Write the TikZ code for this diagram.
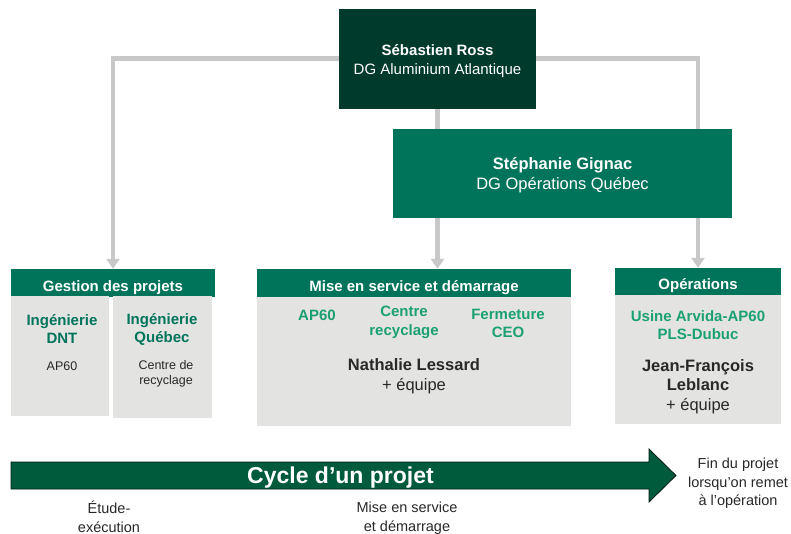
\documentclass[tikz,border=0pt]{standalone}
\usepackage{fontspec}
\setmainfont{Liberation Sans}
\usepackage{xcolor}
\usetikzlibrary{arrows.meta,backgrounds}

\definecolor{rossgreen}{RGB}{0,58,45}
\definecolor{teamgreen}{RGB}{0,116,90}
\definecolor{itemgreen}{RGB}{27,160,115}
\definecolor{bodygray}{RGB}{227,228,226}
\definecolor{linkgray}{RGB}{200,200,200}
\definecolor{cyclegreen}{RGB}{0,90,60}
\definecolor{textgray}{RGB}{40,40,40}

\tikzset{
  bossbox/.style={fill=#1,text=white,align=center,inner sep=0pt},
  headbox/.style={fill=teamgreen,text=white,inner sep=0pt,text height=16pt,text depth=0pt,font=\fontsize{15}{18}\selectfont\bfseries},
  bodybox/.style={fill=bodygray,inner sep=0pt},
  link/.style={draw=linkgray,line width=4.5pt},
  linkarrow/.style={link,-{Triangle[width=13pt,length=10pt]}},
  lbl/.style={align=center,inner sep=0pt}
}

\begin{document}
\begin{tikzpicture}[x=1pt,y=-1pt]
        \useasboundingbox (0,0) rectangle (791,533);
        \node[bossbox=rossgreen,minimum width=197pt,minimum height=100pt,font=\fontsize{15}{19}\selectfont] (ross) at (437.5,58.5) {};
        \node[lbl,text=white,font=\fontsize{15}{19}\selectfont] (rosstext) at (437.5,61.5) {\textbf{Sébastien Ross}\\DG Aluminium Atlantique};
        \node[bossbox=teamgreen,minimum width=339pt,minimum height=89pt] (gignac) at (562.5,173.5) {};
        \node[lbl,text=white,font=\fontsize{16.5}{20}\selectfont] (gignactext) at (562.5,175.5) {\textbf{Stéphanie Gignac}\\DG Opérations Québec};

        \node[headbox,minimum width=204pt,minimum height=28pt] (gestion) at (113,283) {Gestion des projets};
        \node[bodybox,minimum width=98pt,minimum height=120pt] (dnt) at (60,356) {};
        \node[bodybox,minimum width=99pt,minimum height=122pt] (quebec) at (162.5,357) {};
        \node[headbox,minimum width=314pt,minimum height=28pt] (mise) at (414,283) {Mise en service et démarrage};
        \node[bodybox,minimum width=314pt,minimum height=129pt] (misebody) at (414,361.5) {};
        \node[headbox,minimum width=166pt,minimum height=27pt] (ops) at (698,281.5) {Opérations};
        \node[bodybox,minimum width=166pt,minimum height=129pt] (opsbody) at (698,359.5) {};

        \begin{scope}[on background layer]
        \draw[linkarrow] (ross.west) -| (gestion.north);
        \draw[linkarrow] (ross.east) -| (ops.north);
        \draw[link] (ross.south) -- (ross.south |- gignac.north);
        \draw[linkarrow] (gignac.south -| ross.south) -- (mise.north -| ross.south);
        \end{scope}

        \node[lbl,text=teamgreen,font=\fontsize{15}{18}\selectfont\bfseries] (dnttitle) at (62,329) {Ingénierie\\DNT};
        \node[lbl,text=textgray,font=\fontsize{12.5}{15}\selectfont] (dntitem) at (62,366) {AP60};
        \node[lbl,text=teamgreen,font=\fontsize{15}{18}\selectfont\bfseries] (quebectitle) at (162,329) {Ingénierie\\Québec};
        \node[lbl,text=textgray,font=\fontsize{12.5}{15}\selectfont] (quebecitem) at (166,373.5) {Centre de\\recyclage};

        \node[lbl,text=itemgreen,font=\fontsize{15}{19}\selectfont\bfseries] (ap60) at (317,315) {AP60};
        \node[lbl,text=itemgreen,font=\fontsize{15}{19}\selectfont\bfseries] (centre) at (404,322.5) {Centre\\recyclage};
        \node[lbl,text=itemgreen,font=\fontsize{15}{18}\selectfont\bfseries] (ceo) at (508,323) {Fermeture\\CEO};
        \node[lbl,text=textgray,font=\fontsize{16.5}{20}\selectfont] (lessard) at (414,376.5) {\textbf{Nathalie Lessard}\\+ équipe};

        \node[lbl,text=itemgreen,font=\fontsize{15}{18}\selectfont\bfseries] (usine) at (698,325) {Usine Arvida-AP60\\PLS-Dubuc};
        \node[lbl,text=textgray,font=\fontsize{16.5}{19.5}\selectfont] (leblanc) at (698,386.5) {\textbf{Jean-François}\\\textbf{Leblanc}\\+ équipe};

        \fill[cyclegreen,draw=black!70!cyclegreen,line width=0.8pt] (11,462) -- (649,462) -- (649,449) -- (676,475.5) -- (649,502) -- (649,489) -- (11,489) -- cycle;
        \node[lbl,text=white,font=\fontsize{23}{27}\selectfont\bfseries,anchor=base] (cycle) at (340.5,483.5) {Cycle d’un projet};
        \node[lbl,text=textgray,font=\fontsize{14.5}{18.5}\selectfont] (etude) at (109,517) {Étude-\\exécution};
        \node[lbl,text=textgray,font=\fontsize{14.5}{18.5}\selectfont] (service) at (407,518) {Mise en service\\et démarrage};
        \node[lbl,text=textgray,font=\fontsize{14.5}{18.5}\selectfont] (fin) at (738,483.5) {Fin du projet\\lorsqu’on remet\\à l’opération};
    \end{tikzpicture}
\end{document}
